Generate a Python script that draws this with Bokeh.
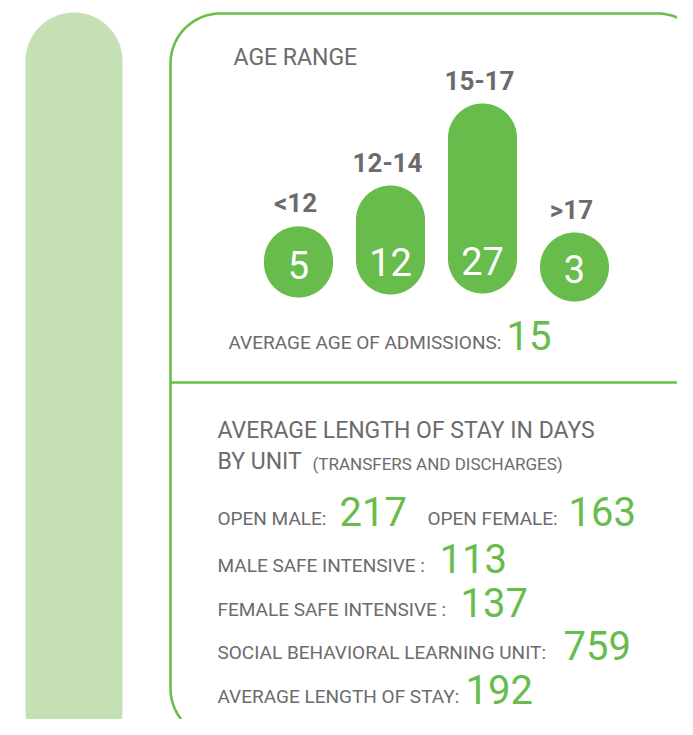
import numpy as np
from bokeh.plotting import figure
from bokeh.models import Range1d
from bokeh.embed import file_html
from bokeh.resources import INLINE
from bokeh.core.properties import value

# ---------------- data ----------------
age_groups = ["<12", "12-14", "15-17", ">17"]
age_counts = [5, 12, 27, 3]
avg_age_label = "AVERAGE AGE OF ADMISSIONS:"
avg_age = 15
stay_units = ["OPEN MALE:", "OPEN FEMALE:", "MALE SAFE INTENSIVE :",
              "FEMALE SAFE INTENSIVE :", "SOCIAL BEHAVIORAL LEARNING UNIT:",
              "AVERAGE LENGTH OF STAY:"]
stay_days = [217, 163, 113, 137, 759, 192]

# ---------------- layout / style ----------------
W, H = 677, 719
GREEN = "#67bc4b"
LIGHT = "#c5e0b4"
GRAY = "#6b6b6d"
FONT = value("Roboto")

BAR_X0, BAR_STEP = 298, 92
BAR_D = 69
BAR_BOTTOMS = [297, 294, 293, 301]
PX_PER_UNIT, V_MIN = 5.4, 4.6

p = figure(width=W, height=H, x_range=Range1d(0, W),
           y_range=Range1d(H, 0), output_backend="svg",
           toolbar_location=None, min_border=0,
           x_axis_location=None, y_axis_location=None)
p.grid.visible = False
p.outline_line_color = None
p.background_fill_color = "white"


def rrect(l, t, r, b, rad, n=30):
    rad = min(rad, (r - l) / 2, (b - t) / 2)
    xs, ys = [], []
    for cx, cy, a0, a1 in [(r - rad, t + rad, -90, 0), (r - rad, b - rad, 0, 90),
                           (l + rad, b - rad, 90, 180), (l + rad, t + rad, 180, 270)]:
        a = np.radians(np.linspace(a0, a1, n))
        xs.extend(cx + rad * np.cos(a))
        ys.extend(cy + rad * np.sin(a))
    return xs, ys


def txt(xs, ys, texts, size, color=GRAY, align="left", bold=False):
    p.text(xs, ys, texts, text_font=FONT, text_font_size=f"{size}px",
           text_font_style="bold" if bold else "normal",
           text_color=color, text_align=align, text_baseline="alphabetic",
           y_offset=-round(0.37 * size))


# left decorative pill
lx, ly = rrect(25, 12, 122, 760, 48.5)
p.patch(lx, ly, fill_color=LIGHT, line_color=None)

# outline box
bx, by = rrect(170, 13, 707, 738, 50)
p.line(bx + [bx[0]], by + [by[0]], line_color="#6abf4b", line_width=2.6)
p.line([170, 720], [382, 382], line_color="#6abf4b", line_width=2.6)

# header
txt([233], [66], ["AGE RANGE"], 23)

# age bars
xs_list, ys_list = [], []
cx_list, bot_list, top_list = [], [], []
for i, v in enumerate(age_counts):
    cx = BAR_X0 + i * BAR_STEP
    bot = BAR_BOTTOMS[i]
    h = BAR_D + PX_PER_UNIT * max(0, v - V_MIN)
    top = bot - h
    x_, y_ = rrect(cx - BAR_D / 2, top, cx + BAR_D / 2, bot, BAR_D / 2)
    xs_list.append(x_)
    ys_list.append(y_)
    cx_list.append(cx)
    bot_list.append(bot)
    top_list.append(top)
p.patches(xs_list, ys_list, fill_color=GREEN, line_color=None)

txt([c - 3 for c in cx_list], [t - 13 for t in top_list], age_groups, 26,
    align="center", bold=True)
txt(cx_list, [b - 19 for b in bot_list], [str(v) for v in age_counts], 38,
    color="white", align="center")

# average age
txt([228], [349], [avg_age_label], 19)
txt([506], [350], [str(avg_age)], 40, color=GREEN)

# length of stay header
txt([217], [439], ["AVERAGE LENGTH OF STAY IN DAYS"], 23)
txt([217], [470], ["BY UNIT"], 23)
txt([312], [469], ["(TRANSFERS AND DISCHARGES)"], 17)

# unit rows
label_x = [217, 427, 217, 217, 217, 217]
label_y = [525, 525, 572, 616, 659, 703]
num_x = [339, 568, 439, 460, 563, 465]
txt(label_x, label_y, stay_units, 19)
txt(num_x, [y + 1 for y in label_y], [str(d) for d in stay_days], 40,
    color=GREEN)

open("out.html", "w").write(file_html(p, INLINE))
